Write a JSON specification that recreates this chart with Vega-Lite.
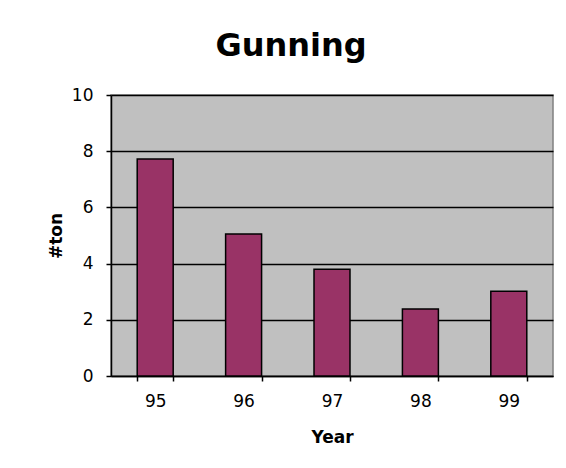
{
  "$schema": "https://vega.github.io/schema/vega-lite/v6.json",
  "autosize": {"type": "none"},
  "padding": {"left": 111, "top": 95, "right": 13, "bottom": 92},
  "width": 442,
  "height": 281,
  "background": "white",
  "title": {
    "text": "Gunning",
    "font": "DejaVu Sans",
    "fontSize": 32,
    "fontWeight": "bold",
    "color": "black",
    "anchor": "middle",
    "dx": -41,
    "offset": 23
  },
  "data": {
    "values": [
      {"Year": "95", "ton": 7.72},
      {"Year": "96", "ton": 5.05},
      {"Year": "97", "ton": 3.8},
      {"Year": "98", "ton": 2.38},
      {"Year": "99", "ton": 3.02}
    ]
  },
  "config": {
    "view": {"fill": "#C0C0C0", "stroke": "#808080", "strokeWidth": 1.5},
    "axis": {
      "labelFont": "DejaVu Sans",
      "labelFontSize": 17,
      "labelColor": "black",
      "titleFont": "DejaVu Sans",
      "titleColor": "black",
      "domainColor": "black",
      "tickColor": "black",
      "domainWidth": 1.5,
      "tickWidth": 1.5,
      "tickSize": 5
    }
  },
  "mark": {"type": "bar", "color": "#993366", "stroke": "black", "strokeWidth": 1.5},
  "encoding": {
    "x": {
      "field": "Year",
      "type": "nominal",
      "scale": {"paddingInner": 0.593, "paddingOuter": 0.2965},
      "axis": {
        "title": "Year",
        "titleFontSize": 17,
        "titleFontWeight": "bold",
        "titlePadding": 20,
        "labelAngle": 0,
        "labelPadding": 12,
        "tickBand": "extent",
        "grid": false
      }
    },
    "y": {
      "field": "ton",
      "type": "quantitative",
      "scale": {"domain": [0, 10], "nice": false},
      "axis": {
        "title": "#ton",
        "titleFontSize": 17,
        "titleFontWeight": "bold",
        "titlePadding": 6,
        "values": [0, 2, 4, 6, 8, 10],
        "labelPadding": 13,
        "grid": true,
        "gridColor": "black",
        "gridWidth": 1.5,
        "gridOpacity": 1
      }
    }
  }
}
